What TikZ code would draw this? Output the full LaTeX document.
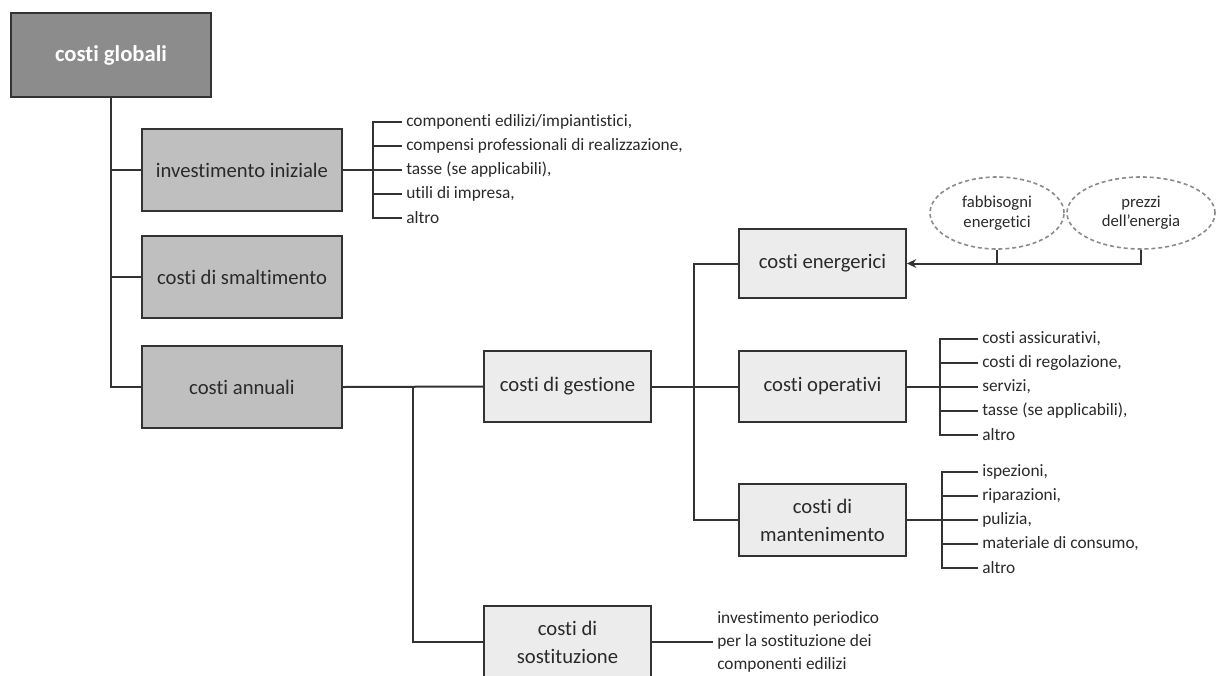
\documentclass[tikz,border=0pt]{standalone}
\usepackage{fontspec}
\setmainfont{Carlito}[RawFeature={-liga;-clig}]
\usetikzlibrary{shapes.geometric,arrows.meta}
\definecolor{lc}{HTML}{333333}
\definecolor{tc}{HTML}{2A2A2A}
\definecolor{topfill}{HTML}{8C8C8C}
\definecolor{midfill}{HTML}{BFBFBF}
\definecolor{lowfill}{HTML}{ECECEC}
\definecolor{dashc}{HTML}{8A8A8A}
\tikzset{
  topbox/.style={draw=lc,line width=1.6pt,fill=topfill,minimum width=150pt,minimum height=63pt,text=white,font=\fontsize{17}{21}\selectfont\bfseries},
  midbox/.style={draw=lc,line width=1.6pt,fill=midfill,minimum width=150pt,minimum height=62pt,text=tc,font=\fontsize{15.5}{21}\selectfont},
  lowbox/.style={draw=lc,line width=1.6pt,fill=lowfill,minimum width=125pt,minimum height=53pt,text=tc,align=center,font=\fontsize{15.5}{21}\selectfont},
  cloud/.style={ellipse,draw=dashc,dashed,dash pattern=on 3pt off 2.2pt,line width=1.2pt,align=center,text=tc,inner sep=0pt,font=\fontsize{12.5}{14.5}\selectfont},
  item/.style={anchor=west,inner sep=3pt,text=tc,font=\fontsize{13}{16}\selectfont},
  conn/.style={draw=lc,line width=1.5pt},
}
\begin{document}
\begin{tikzpicture}[x=0.75pt,y=-0.75pt]
\clip (0,0) rectangle (1216,675);
\fill[white] (0,0) rectangle (1216,675);
% boxes
\node[topbox] (glob) at (111,55) {costi globali};
\node[midbox] (inv) at (242,170) {investimento iniziale};
\node[midbox] (smal) at (242,277) {costi di smaltimento};
\node[midbox] (ann) at (242,387) {costi annuali};
\node[lowbox] (gest) at (567.5,386.5) {costi di gestione};
\node[lowbox,minimum height=54pt] (sost) at (567.5,642) {costi di\\sostituzione};
\node[lowbox,minimum height=52pt] (ener) at (822.5,263.5) {costi energerici};
\node[lowbox] (oper) at (822.5,386.5) {costi operativi};
\node[lowbox,minimum height=54pt] (mant) at (822.5,520) {costi di\\mantenimento};
% ellipses
\node[cloud,minimum width=100.5pt,minimum height=54pt] (fab) at (997,213) {fabbisogni\\energetici};
\node[cloud,minimum width=111pt,minimum height=54pt] (prez) at (1141,213) {prezzi\\dell'energia};
% tree connectors
\draw[conn] (glob.south) |- (ann.west);
\draw[conn] (glob.south |- inv.west) -- (inv.west);
\draw[conn] (glob.south |- smal.west) -- (smal.west);
\draw[conn] (ann.east) -- (gest.west);
\coordinate (b1) at (413,386.5);
\draw[conn] (b1) |- (sost.west);
\draw[conn] (gest.east) -- (oper.west);
\coordinate (b2) at (694,386.5);
\draw[conn] (ener.west) -| (b2 |- mant.west) -- (mant.west);
% energy arrow
\draw[conn,-{Stealth[length=7pt,width=6.5pt]}] (prez.south) |- (ener.east);
\draw[conn] (fab.south) -- (fab.south |- ener.east);
% investimento list
\node[item] (i1) at (402,122) {componenti edilizi/impiantistici,};
\node[item] (i2) at (402,146) {compensi professionali di realizzazione,};
\node[item] (i3) at (402,170) {tasse (se applicabili),};
\node[item] (i4) at (402,194) {utili di impresa,};
\node[item] (i5) at (402,218) {altro};
\coordinate (ib) at (373,170);
\draw[conn] (inv.east) -- (ib);
\draw[conn] (i1.west) -- (i1.west -| ib) -- (i5.west -| ib) -- (i5.west);
\foreach \n in {i2,i3,i4} \draw[conn] (\n.west) -- (\n.west -| ib);
% operativi list
\node[item] (o1) at (978,338.5) {costi assicurativi,};
\node[item] (o2) at (978,362.5) {costi di regolazione,};
\node[item] (o3) at (978,386.5) {servizi,};
\node[item] (o4) at (978,410.5) {tasse (se applicabili),};
\node[item] (o5) at (978,434.5) {altro};
\coordinate (ob) at (940,386.5);
\draw[conn] (oper.east) -- (ob);
\draw[conn] (o1.west) -- (o1.west -| ob) -- (o5.west -| ob) -- (o5.west);
\foreach \n in {o2,o3,o4} \draw[conn] (\n.west) -- (\n.west -| ob);
% mantenimento list
\node[item] (m1) at (978,472) {ispezioni,};
\node[item] (m2) at (978,496) {riparazioni,};
\node[item] (m3) at (978,520) {pulizia,};
\node[item] (m4) at (978,544) {materiale di consumo,};
\node[item] (m5) at (978,568) {altro};
\coordinate (mb) at (942,520);
\draw[conn] (mant.east) -- (mb);
\draw[conn] (m1.west) -- (m1.west -| mb) -- (m5.west -| mb) -- (m5.west);
\foreach \n in {m2,m3,m4} \draw[conn] (\n.west) -- (\n.west -| mb);
% sostituzione text
\node[item,align=left,font=\fontsize{13}{17.25}\selectfont] (st) at (713,642) {investimento periodico\\per la sostituzione dei\\componenti edilizi};
\draw[conn] (sost.east) -- (st.west);
\end{tikzpicture}
\end{document}
